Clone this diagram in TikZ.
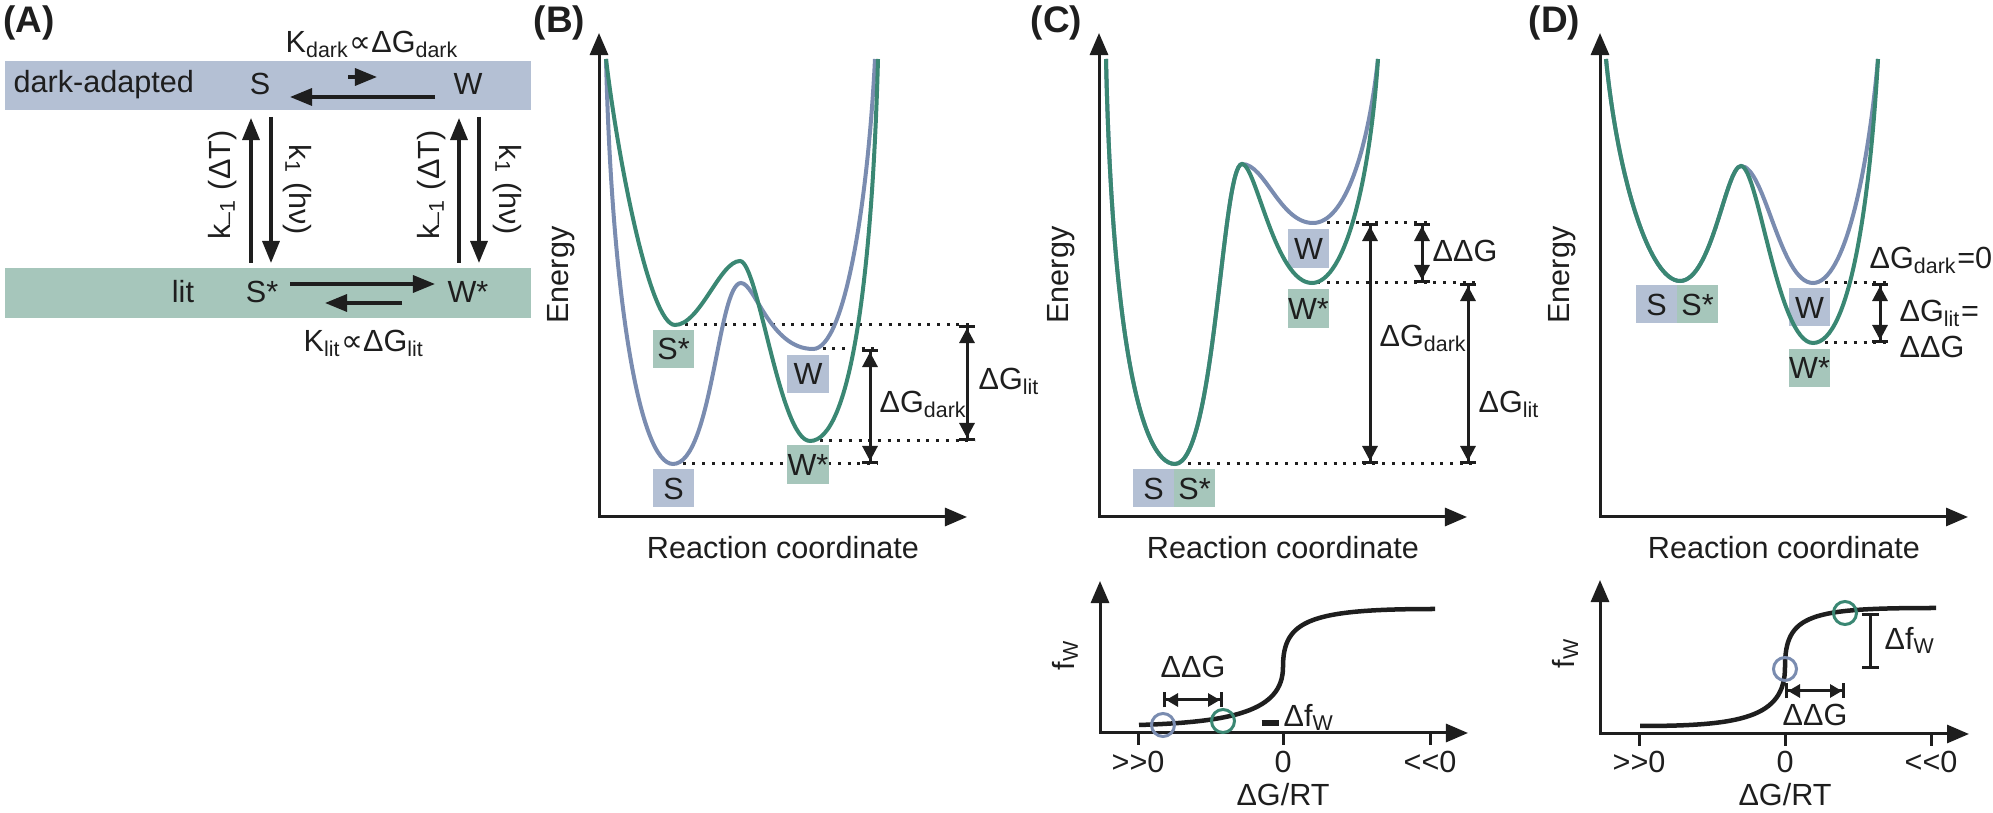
\documentclass[tikz,border=0pt]{standalone}
\usepackage{fontspec}
\setmainfont{Liberation Sans}
\newfontfamily\symfont{DejaVu Sans}
\usetikzlibrary{arrows.meta,calc}

\definecolor{bandblue}{RGB}{180,192,212}
\definecolor{bandgreen}{RGB}{166,198,187}
\definecolor{lineblue}{RGB}{122,140,176}
\definecolor{linegreen}{RGB}{58,135,115}
\definecolor{ink}{RGB}{30,30,30}

\newcommand{\sub}[1]{\textsubscript{#1}}
\newcommand{\prop}{{\symfont ∝}}

\tikzset{
  panel/.style={font=\fontsize{10.5}{12}\selectfont\bfseries, anchor=base west},
  arrA/.style={ink, line width=0.033cm, -{Triangle[length=0.22cm,width=0.17cm]}},
  axarr/.style={ink, line width=0.03cm, {Triangle[length=0.22cm,width=0.18cm]}-{Triangle[length=0.22cm,width=0.18cm]}},
  lvl/.style={ink, line width=0.03cm, dash pattern=on 0.03cm off 0.067cm},
  dbl/.style={ink, line width=0.03cm, {Bar[width=0.16cm]Triangle[length=0.15cm,width=0.15cm]}-{Triangle[length=0.15cm,width=0.15cm]Bar[width=0.16cm]}},
  dblsm/.style={ink, line width=0.03cm, {Bar[width=0.15cm]Triangle[length=0.12cm,width=0.13cm]}-{Triangle[length=0.12cm,width=0.13cm]Bar[width=0.15cm]}},
  barbar/.style={ink, line width=0.03cm, {Bar[width=0.17cm]}-{Bar[width=0.17cm]}},
  boxb/.style={fill=bandblue, minimum width=0.41cm, minimum height=0.38cm, text height=0.22cm, text depth=0pt},
  boxg/.style={boxb, fill=bandgreen},
  pb/.style={lineblue, line width=0.04cm},
  pg/.style={linegreen, line width=0.04cm},
  sig/.style={ink, line width=0.045cm},
  ring/.style={circle, draw, line width=0.03cm, minimum size=0.23cm},
  tk/.style={ink, line width=0.03cm},
}

\begin{document}
\begin{tikzpicture}[x=0.01cm, y=-0.01cm, inner sep=0pt, font=\fontsize{8.7}{10}\selectfont, text=ink]
		\useasboundingbox (0,0) rectangle (1993,813);
		
		%%%%% (A) scheme %%%%%
		\node[panel] at (3,33) {(A)};
		\fill[bandblue] (5,61) rectangle (531,110);
		\fill[bandgreen] (5,268) rectangle (531,318);
		
		\node[anchor=base west] (dark) at (13,93) {dark-adapted};
		\node[anchor=base] (lit) at (183,303) {lit};
		\node (S) at (260,84) {S};
		\node (W) at (468,84) {W};
		\node (Sstar) at (262,292) {S*};
		\node (Wstar) at (468,292) {W*};
		
		\draw[arrA] ($(W)+(-33,13)$) -- ($(S)+(30,13)$);
		\draw[arrA] ($(S)+(88,-7)$) -- ($(S)+(117,-7)$);
		\draw[arrA] ($(Sstar)+(28,-8)$) -- ($(Wstar)+(-33,-8)$);
		\draw[arrA] ($(Wstar)+(-66,11)$) -- ($(Sstar)+(63,11)$);
		
		\draw[arrA] ($(Sstar)+(-11,-29)$) -- ($(S)+(-9,34)$);
		\draw[arrA] ($(S)+(11,33)$) -- ($(Sstar)+(9,-29)$);
		\draw[arrA] ($(Wstar)+(-9,-29)$) -- ($(W)+(-9,34)$);
		\draw[arrA] ($(W)+(11,33)$) -- ($(Wstar)+(11,-29)$);
		
		\node[anchor=base west] (kdark) at (285,53) {K\sub{dark}\prop ΔG\sub{dark}};
		\node[anchor=base west] (klit) at (303,352) {K\sub{lit}\prop ΔG\sub{lit}};
		\node[rotate=90] (kbackS) at (223,185) {k\sub{–1} (ΔT)};
		\node[rotate=-90] (kfwdS) at (297,190) {k\sub{1} (hν)};
		\node[rotate=90] (kbackW) at (432,185) {k\sub{–1} (ΔT)};
		\node[rotate=-90] (kfwdW) at (507,190) {k\sub{1} (hν)};
		
		%%%%% (B) %%%%%
		\node[panel] at (533,33) {(B)};
		\draw[lvl] (675,325) -- (975,325);
		\draw[lvl] (813,349) -- (877,349);
		\draw[lvl] (810,441) -- (975,441);
		\draw[lvl] (673,464) -- (877,464);
		\draw[dbl] (870,349) -- (870,464);
		\draw[dbl] (967,325) -- (967,441);
		\node[anchor=base west] at (879,413) {ΔG\sub{dark}};
		\node[anchor=base west] at (978,390) {ΔG\sub{lit}};
		
		\node[boxg] (bSs) at (673.5,349) {S*};
		\node[boxb] (bW) at (808,374) {W};
		\node[boxg] (bWs) at (808,464.5) {W*};
		\node[boxb] (bS) at (673.5,488) {S};
		
		\draw[pb] (606,59) .. controls (612,300) and (640,464) .. (673,464)
			.. controls (712,464) and (718,283) .. (741,283)
			.. controls (755,283) and (770,349) .. (813,349)
			.. controls (845,349) and (868,200) .. (875,59);
		\draw[pg] (606,59) .. controls (618,160) and (650,325) .. (675,325)
			.. controls (700,325) and (720,261) .. (740,261)
			.. controls (758,261) and (780,441) .. (810,441)
			.. controls (850,441) and (872,280) .. (878,59);
		
		\draw[axarr] (599,33) -- (599,517) -- (967,517);
		\node[rotate=90] at (561,275) {Energy};
		\node[anchor=base] at (783,559) {Reaction coordinate};
		
		%%%%% (C) %%%%%
		\node[panel] at (1030,33) {(C)};
		\draw[lvl] (1317,223) -- (1428,223);
		\draw[lvl] (1317,283) -- (1477,283);
		\draw[lvl] (1188,464) -- (1477,464);
		\draw[dbl] (1370,223) -- (1370,464);
		\draw[dbl] (1422,223) -- (1422,283);
		\draw[dbl] (1468,283) -- (1468,464);
		\node[anchor=base west] at (1432,262) {ΔΔG};
		\node[anchor=base west] at (1379,347) {ΔG\sub{dark}};
		\node[anchor=base west] at (1478,413) {ΔG\sub{lit}};
		
		\node[boxb] (cW) at (1308.5,248.5) {W};
		\node[boxg] (cWs) at (1308.5,308.5) {W*};
		\node[boxb] (cS) at (1153.5,488) {S};
		\node[boxg] (cSs) at (1194.5,488) {S*};
		
		\draw[pb] (1106,59) .. controls (1112,330) and (1140,464) .. (1175,464)
			.. controls (1215,464) and (1222,164) .. (1242,164)
			.. controls (1265,164) and (1280,223) .. (1313,223)
			.. controls (1345,223) and (1368,150) .. (1378,59);
		\draw[pg] (1106,59) .. controls (1112,330) and (1140,464) .. (1175,464)
			.. controls (1215,464) and (1222,164) .. (1242,164)
			.. controls (1256,164) and (1275,283) .. (1312,283)
			.. controls (1345,283) and (1370,180) .. (1378,59);
		
		\draw[axarr] (1099,33) -- (1099,517) -- (1467,517);
		\node[rotate=90] at (1061,275) {Energy};
		\node[anchor=base] at (1283,559) {Reaction coordinate};
		
		% fraction plot (C)
		\draw[axarr] (1100,581) -- (1100,733) -- (1468,733);
		\foreach \x in {1138,1283,1430} \draw[tk] (\x,733) -- (\x,745);
		\node[anchor=base] at (1138,773) {>{}>0};
		\node[anchor=base] at (1283,773) {0};
		\node[anchor=base] at (1430,773) {<{}<0};
		\node[anchor=base] at (1283,806) {ΔG/RT};
		\node[rotate=90] at (1065,655) {f\sub{W}};
		\draw[sig] (1139,725) .. controls (1230,722) and (1283,712) .. (1283,667)
			.. controls (1283,620) and (1310,609) .. (1435,609);
		\node[ring, draw=lineblue] (cbC) at (1163,725) {};
		\node[ring, draw=linegreen] (cgC) at (1223,721) {};
		\draw[dblsm] ($(cbC)+(0,-25)$) -- ($(cgC)+(0,-21)$);
		\node[anchor=base] at (1193,678) {ΔΔG};
		\draw[barbar] ($(cgC)+(47,-1)$) coordinate (dfc) -- ($(dfc |- cbC)+(0,1)$);
		\node[anchor=base west] at (1283,727) {Δf\sub{W}};
		
		%%%%% (D) %%%%%
		\node[panel] at (1528,33) {(D)};
		\draw[lvl] (1815,283) -- (1886,283);
		\draw[lvl] (1815,343) -- (1886,343);
		\draw[dbl] (1880,283) -- (1880,343);
		\node[anchor=base west] at (1869,269) {ΔG\sub{dark}=0};
		\node[anchor=base west] at (1899,322) {ΔG\sub{lit}=};
		\node[anchor=base west] at (1899,358) {ΔΔG};
		
		\node[boxb] (dS) at (1656.5,304) {S};
		\node[boxg] (dSs) at (1697.5,304) {S*};
		\node[boxb] (dW) at (1809.5,307) {W};
		\node[boxg] (dWs) at (1809.5,368) {W*};
		
		\draw[pb] (1606,59) .. controls (1618,180) and (1650,281) .. (1680,281)
			.. controls (1712,281) and (1726,166) .. (1741,166)
			.. controls (1765,166) and (1780,283) .. (1813,283)
			.. controls (1845,283) and (1868,170) .. (1878,59);
		\draw[pg] (1606,59) .. controls (1618,180) and (1650,281) .. (1680,281)
			.. controls (1712,281) and (1726,166) .. (1741,166)
			.. controls (1758,166) and (1778,343) .. (1813,343)
			.. controls (1850,343) and (1870,200) .. (1878,59);
		
		\draw[axarr] (1600,33) -- (1600,517) -- (1968,517);
		\node[rotate=90] at (1562,275) {Energy};
		\node[anchor=base] at (1784,559) {Reaction coordinate};
		
		% fraction plot (D)
		\draw[axarr] (1600,580) -- (1600,734) -- (1969,734);
		\foreach \x in {1639,1785,1931} \draw[tk] (\x,734) -- (\x,746);
		\node[anchor=base] at (1639,773) {>{}>0};
		\node[anchor=base] at (1785,773) {0};
		\node[anchor=base] at (1931,773) {<{}<0};
		\node[anchor=base] at (1785,806) {ΔG/RT};
		\node[rotate=90] at (1565,653) {f\sub{W}};
		\draw[sig] (1640,726) .. controls (1740,726) and (1785,718) .. (1785,667)
			.. controls (1785,614) and (1810,608) .. (1936,608);
		\node[ring, draw=lineblue] (cbD) at (1785,669) {};
		\node[ring, draw=linegreen] (cgD) at (1845,613) {};
		\draw[dblsm] ($(cbD)+(0,22)$) -- ($(cbD)+(60,22)$);
		\node[anchor=base] at (1815,726) {ΔΔG};
		\draw[barbar] ($(cgD)+(25,0)$) coordinate (dfd) -- (dfd |- cbD);
		\node[anchor=base west] at (1884,650) {Δf\sub{W}};
		%%%%% END %%%%%
	\end{tikzpicture}
\end{document}
